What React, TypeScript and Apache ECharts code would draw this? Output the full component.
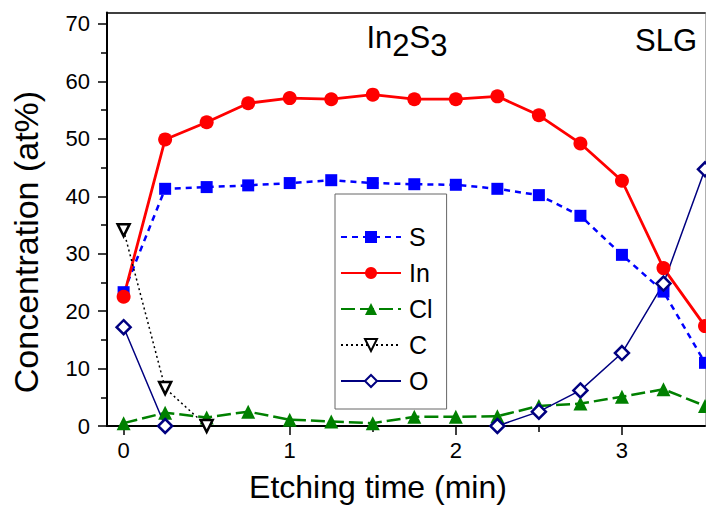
import React, { useEffect, useRef } from 'react';
import * as echarts from 'echarts';

const times = [0, 0.25, 0.5, 0.75, 1, 1.25, 1.5, 1.75, 2, 2.25, 2.5, 2.75, 3, 3.25, 3.5];
const sValues = [23.3, 41.3, 41.6, 41.9, 42.3, 42.8, 42.3, 42.1, 42.0, 41.3, 40.2, 36.6, 29.8, 23.4, 11.0];
const inValues = [22.5, 49.9, 52.9, 56.2, 57.1, 56.9, 57.7, 56.9, 56.9, 57.4, 54.1, 49.2, 42.7, 27.5, 17.4];
const clValues = [0.5, 2.3, 1.5, 2.5, 1.1, 0.8, 0.5, 1.6, 1.6, 1.7, 3.5, 3.9, 5.1, 6.4, 3.5];
const cValues: (number | null)[] = [34.1, 6.6, 0, null, null, null, null, null, null, null, null, null, null, null, null];
const oValues: (number | null)[] = [17.2, 0, null, null, null, null, null, null, null, 0, 2.5, 6.2, 12.7, 24.8, 44.7];

const xTicks = [0, 1, 2, 3];
const xMinorTicks = [0.5, 1.5, 2.5];
const yTicks = [0, 10, 20, 30, 40, 50, 60, 70];
const yMinorTicks = [5, 15, 25, 35, 45, 55, 65];

const FONT = "'Liberation Sans', Arial, Helvetica, sans-serif";

function pairs(vals: (number | null)[]) {
  return times.map((t, i) => [t, vals[i] === null ? null : vals[i]]);
}

export default function App() {
  const ref = useRef<HTMLDivElement>(null);
  useEffect(() => {
    if (!ref.current) return;
    const chart = echarts.init(ref.current, undefined, { renderer: 'svg' });
    const baseX = { min: -0.1, max: 3.5, type: 'value' as const, splitLine: { show: false } };
    const baseY = { min: 0, max: 72, type: 'value' as const, splitLine: { show: false } };
    chart.setOption({
      animation: false,
      backgroundColor: '#fff',
      grid: { left: 107, right: 1, top: 12.5, bottom: 82, containLabel: false },
      xAxis: [
        {
          ...baseX,
          position: 'bottom',
          axisLine: { show: true, onZero: false, lineStyle: { color: '#000', width: 2 } },
          axisTick: { show: true, customValues: xTicks, length: 9, lineStyle: { color: '#000', width: 1.5 } },
          axisLabel: { show: true, customValues: xTicks, fontSize: 22, color: '#000', fontFamily: FONT, margin: 13 },
        },
        {
          ...baseX,
          position: 'bottom',
          axisLine: { show: false, onZero: false },
          axisTick: { show: true, customValues: xMinorTicks, length: 6, lineStyle: { color: '#000', width: 1.5 } },
          axisLabel: { show: false },
        },
        {
          ...baseX,
          position: 'top',
          axisLine: { show: true, onZero: false, lineStyle: { color: '#000', width: 1.5 } },
          axisTick: { show: false },
          axisLabel: { show: false },
        },
      ],
      yAxis: [
        {
          ...baseY,
          interval: 10,
          position: 'left',
          axisLine: { show: true, onZero: false, lineStyle: { color: '#000', width: 2 } },
          axisTick: { show: true, customValues: yTicks, length: 9, lineStyle: { color: '#000', width: 1.5 } },
          axisLabel: { show: true, customValues: yTicks, fontSize: 22, color: '#000', fontFamily: FONT, margin: 17 },
        },
        {
          ...baseY,
          position: 'left',
          axisLine: { show: false, onZero: false },
          axisTick: { show: true, customValues: yMinorTicks, length: 6, lineStyle: { color: '#000', width: 1.5 } },
          axisLabel: { show: false },
        },
        {
          ...baseY,
          position: 'right',
          axisLine: { show: true, onZero: false, lineStyle: { color: '#b0b0b0', width: 1 } },
          axisTick: { show: false },
          axisLabel: { show: false },
        },
      ],
      legend: {
        orient: 'vertical',
        left: 335,
        top: 194,
        padding: [30, 14, 15, 5],
        itemWidth: 60,
        itemHeight: 15,
        itemGap: 10,
        borderColor: '#666',
        borderWidth: 1,
        borderRadius: 0,
        backgroundColor: '#fff',
        textStyle: { fontSize: 25, color: '#000', fontFamily: FONT, lineHeight: 26, padding: [0, 0, 0, 3] },
        data: ['S', 'In', 'Cl', 'C', 'O'],
      },
      series: [
        {
          name: 'S', type: 'line', data: pairs(sValues), symbol: 'rect', symbolSize: 12,
          lineStyle: { color: '#0000ff', width: 2.5, type: [6, 5] },
          itemStyle: { color: '#0000ff' },
        },
        {
          name: 'In', type: 'line', data: pairs(inValues), symbol: 'circle', symbolSize: 14,
          lineStyle: { color: '#ff0000', width: 2.8, type: 'solid' },
          itemStyle: { color: '#ff0000' },
        },
        {
          name: 'Cl', type: 'line', data: pairs(clValues), symbol: 'triangle', symbolSize: 14,
          lineStyle: { color: '#008000', width: 2.5, type: [14, 5] },
          itemStyle: { color: '#008000' },
        },
        {
          name: 'C', type: 'line', data: pairs(cValues), symbol: 'triangle', symbolRotate: 180, symbolSize: 12,
          lineStyle: { color: '#000', width: 1.5, type: [2, 3] },
          itemStyle: { color: '#fff', borderColor: '#000', borderWidth: 2.5 },
        },
        {
          name: 'O', type: 'line', data: pairs(oValues), symbol: 'diamond', symbolSize: 14,
          lineStyle: { color: '#000080', width: 1.5, type: 'solid' },
          itemStyle: { color: '#fff', borderColor: '#000080', borderWidth: 2.5 },
        },
      ],
      graphic: [
        {
          type: 'text', x: 26, y: 242, rotation: Math.PI / 2,
          style: { text: 'Concentration (at%)', fontSize: 34, fontFamily: FONT, fill: '#000', align: 'center', verticalAlign: 'middle' },
        },
        {
          type: 'text', x: 378, y: 487,
          style: { text: 'Etching time (min)', fontSize: 32, fontFamily: FONT, fill: '#000', align: 'center', verticalAlign: 'middle' },
        },
        {
          type: 'text', x: 407, y: 37,
          style: {
            text: '{n|In}{s|2}{n|S}{s|3}', align: 'center', verticalAlign: 'middle', fill: '#000',
            rich: {
              n: { fontSize: 31, fontFamily: FONT, fill: '#000' },
              s: { fontSize: 31, fontFamily: FONT, fill: '#000', padding: [16, 0, 0, 0] },
            },
          },
        },
        {
          type: 'text', x: 666, y: 40,
          style: { text: 'SLG', fontSize: 31, fontFamily: FONT, fill: '#000', align: 'center', verticalAlign: 'middle' },
        },
      ],
    });
    return () => chart.dispose();
  }, []);
  return <div ref={ref} style={{ position: 'fixed', left: 0, top: 0, width: 706, height: 508 }} />;
}
